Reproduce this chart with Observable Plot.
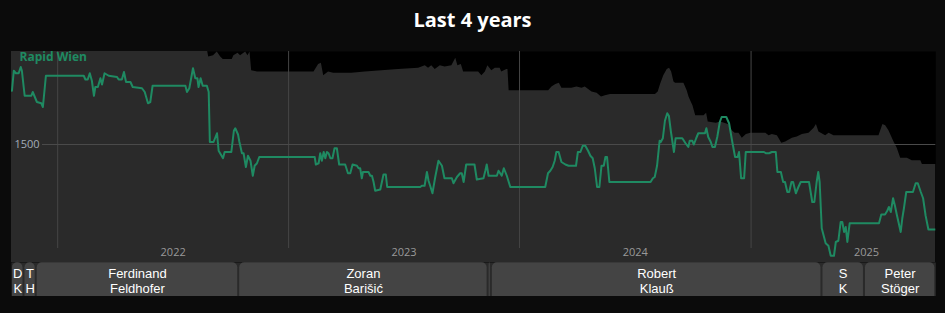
<!DOCTYPE html>
<html><head><meta charset="utf-8">
<script src="https://cdn.jsdelivr.net/npm/d3@7"></script>
<script src="https://cdn.jsdelivr.net/npm/@observablehq/plot@0.6"></script>
<style>
html,body{margin:0;padding:0;background:#0b0b0b;}
#title{height:40px;line-height:40px;text-align:center;color:#fff;font-family:"Open Sans",sans-serif;font-weight:700;font-size:20px;}
#chart svg,#band svg{display:block;}
</style></head><body>
<div id="title">Last 4 years</div>
<div id="chart"></div>
<div id="band"></div>
<script>
const clubName = "Rapid Wien";
const rapidYear = [
2021.802,2021.810,2021.819,2021.831,2021.840,2021.845,2021.857,2021.886,2021.892,2021.910,
2021.929,2021.936,2021.949,2022.113,2022.120,2022.130,2022.139,2022.148,2022.157,2022.163,
2022.174,2022.185,2022.192,2022.203,2022.221,2022.257,2022.264,2022.278,2022.287,2022.296,
2022.315,2022.325,2022.365,2022.377,2022.391,2022.401,2022.411,2022.553,2022.560,2022.570,
2022.579,2022.586,2022.596,2022.605,2022.610,2022.619,2022.628,2022.646,2022.654,2022.659,
2022.675,2022.690,2022.697,2022.716,2022.723,2022.752,2022.763,2022.769,2022.781,2022.787,
2022.798,2022.805,2022.815,2022.824,2022.835,2022.845,2022.853,2022.863,2022.873,2023.113,
2023.118,2023.130,2023.137,2023.144,2023.152,2023.159,2023.166,2023.173,2023.181,2023.190,
2023.199,2023.209,2023.219,2023.245,2023.257,2023.267,2023.277,2023.296,2023.303,2023.310,
2023.317,2023.322,2023.346,2023.354,2023.361,2023.368,2023.375,2023.397,2023.411,2023.421,
2023.427,2023.570,2023.577,2023.589,2023.599,2023.606,2023.613,2023.623,2023.635,2023.649,
2023.664,2023.675,2023.707,2023.714,2023.729,2023.743,2023.750,2023.758,2023.769,2023.805,
2023.815,2023.844,2023.852,2023.858,2023.866,2023.902,2023.909,2023.916,2023.923,2023.932,
2023.945,2023.960,2024.111,2024.123,2024.133,2024.143,2024.152,2024.159,2024.169,2024.181,
2024.198,2024.212,2024.244,2024.252,2024.263,2024.273,2024.284,2024.296,2024.306,2024.316,
2024.325,2024.335,2024.345,2024.354,2024.364,2024.371,2024.378,2024.388,2024.566,2024.576,
2024.584,2024.594,2024.605,2024.610,2024.619,2024.628,2024.638,2024.645,2024.654,2024.667,
2024.674,2024.703,2024.717,2024.729,2024.735,2024.746,2024.753,2024.763,2024.772,2024.801,
2024.807,2024.815,2024.826,2024.833,2024.844,2024.854,2024.865,2024.873,2024.893,2024.905,
2024.919,2024.931,2024.942,2024.948,2024.957,2024.970,2024.977,2025.056,2025.064,2025.078,
2025.090,2025.107,2025.114,2025.129,2025.139,2025.147,2025.157,2025.165,2025.175,2025.182,
2025.194,2025.205,2025.215,2025.251,2025.258,2025.265,2025.274,2025.284,2025.291,2025.297,
2025.306,2025.316,2025.323,2025.335,2025.345,2025.359,2025.367,2025.378,2025.388,2025.395,
2025.403,2025.410,2025.417,2025.427,2025.554,2025.564,2025.580,2025.590,2025.597,2025.605,
2025.615,2025.623,2025.631,2025.648,2025.655,2025.662,2025.672,2025.701,2025.713,2025.722,
2025.735,2025.745,2025.756,2025.768,2025.800];
const rapidElo = [
1543,1559,1557,1557,1562,1559,1539,1539,1542,1534,
1533,1530,1555,1555,1552,1552,1557,1551,1539,1546,
1546,1553,1548,1557,1555,1554,1552,1552,1558,1550,
1550,1546,1545,1542,1533,1534,1547,1547,1542,1545,
1554,1561,1553,1553,1546,1553,1547,1547,1542,1502,
1502,1509,1495,1489,1494,1494,1511,1513,1508,1502,
1493,1493,1482,1491,1487,1475,1483,1485,1490,1490,
1484,1485,1493,1487,1494,1489,1494,1493,1489,1489,
1497,1497,1484,1484,1477,1477,1484,1483,1481,1481,
1473,1478,1478,1475,1475,1470,1463,1464,1476,1476,
1466,1466,1467,1467,1478,1471,1467,1461,1474,1487,
1483,1473,1473,1469,1474,1477,1477,1470,1484,1484,
1472,1473,1479,1484,1475,1475,1479,1477,1475,1481,
1475,1466,1466,1477,1479,1482,1487,1494,1494,1486,
1484,1483,1483,1494,1494,1499,1499,1495,1491,1489,
1481,1466,1466,1483,1483,1490,1490,1470,1470,1473,
1474,1483,1503,1502,1505,1519,1525,1523,1510,1494,
1505,1505,1501,1498,1503,1503,1500,1505,1509,1509,
1513,1506,1502,1498,1498,1506,1518,1522,1522,1517,
1502,1490,1490,1494,1473,1473,1494,1494,1493,1493,
1494,1494,1478,1478,1470,1470,1462,1462,1470,1470,
1461,1466,1470,1470,1462,1454,1454,1470,1478,1470,
1433,1426,1421,1419,1411,1411,1422,1423,1438,1438,
1430,1434,1422,1437,1437,1444,1444,1447,1450,1446,
1457,1451,1444,1430,1441,1449,1462,1462,1469,1469,
1462,1457,1443,1432,1432];
const topYear = [
2021.800,2022.649,2022.654,2022.675,2022.691,2022.706,2022.717,2022.756,2022.763,2022.781,
2022.792,2022.814,2022.824,2022.833,2022.840,2022.865,2023.110,2023.130,2023.142,2023.152,
2023.173,2023.195,2023.245,2023.274,2023.332,2023.404,2023.476,2023.563,2023.592,2023.606,
2023.620,2023.635,2023.657,2023.678,2023.707,2023.724,2023.733,2023.748,2023.758,2023.794,
2023.823,2023.837,2023.852,2023.863,2023.880,2023.895,2023.916,2023.923,2023.945,2023.950,
2023.955,2024.126,2024.140,2024.157,2024.172,2024.183,2024.226,2024.248,2024.270,2024.284,
2024.313,2024.335,2024.354,2024.371,2024.393,2024.587,2024.599,2024.609,2024.623,2024.638,
2024.648,2024.657,2024.667,2024.674,2024.710,2024.724,2024.732,2024.739,2024.749,2024.761,
2024.797,2024.808,2024.815,2024.850,2024.869,2024.902,2024.919,2024.931,2024.948,2024.962,
2024.980,2024.999,2025.064,2025.078,2025.092,2025.114,2025.133,2025.150,2025.179,2025.200,
2025.222,2025.251,2025.273,2025.283,2025.294,2025.323,2025.338,2025.359,2025.554,2025.571,
2025.583,2025.597,2025.619,2025.633,2025.648,2025.677,2025.698,2025.735,2025.742,2025.802];
const topElo = [
1575,1575,1570,1571,1574,1570,1568,1568,1571,1573,
1571,1574,1571,1574,1559,1558,1558,1564,1565,1555,
1558,1557,1557,1557,1558,1559,1560,1561,1563,1561,
1563,1560,1563,1562,1563,1569,1563,1564,1558,1558,
1558,1555,1558,1563,1559,1561,1561,1558,1560,1560,
1543,1543,1546,1548,1549,1545,1545,1546,1545,1546,
1542,1541,1538,1539,1540,1540,1542,1548,1555,1560,
1561,1558,1550,1549,1549,1543,1538,1535,1531,1523,
1523,1525,1518,1517,1518,1516,1511,1509,1509,1505,
1508,1509,1509,1507,1508,1507,1501,1502,1505,1506,
1508,1509,1513,1516,1510,1507,1509,1507,1507,1516,
1515,1511,1502,1497,1489,1489,1487,1487,1484,1484];
const yearTicks = [2022, 2023, 2024, 2025];
const yearLabels = [2022, 2023, 2024, 2025];
const eloTicks = [1500];
const managerLabels = ["D\nK", "T\nH", "Ferdinand\nFeldhofer", "Zoran\nBarišić", "", "Robert\nKlauß", "S\nK", "Peter\nStöger"];
const managerStart = [2021.800, 2021.854, 2021.907, 2022.784, 2023.864, 2023.878, 2025.307, 2025.491];
const managerEnd   = [2021.854, 2021.907, 2022.784, 2023.864, 2023.878, 2025.307, 2025.491, 2025.800];
const xDomainYears = [2021.800, 2025.800];
const yDomain = [1405.6, 1574.4];

function yd(y) {
  const Y = Math.floor(y), f = y - Y;
  const a = Date.UTC(Y, 0, 1), b = Date.UTC(Y + 1, 0, 1);
  return new Date(a + f * (b - a));
}
const n1 = Math.min(rapidYear.length, rapidElo.length);
const rapidData = rapidYear.slice(0, n1).map((y, i) => ({date: yd(y), elo: rapidElo[i]}));
const n2 = Math.min(topYear.length, topElo.length);
const topData = topYear.slice(0, n2).map((y, i) => ({date: yd(y), elo: topElo[i]}));
const managerData = managerLabels.map((l, i) => ({
  label: l, start: yd(managerStart[i]), end: yd(managerEnd[i]),
  mid: yd((managerStart[i] + managerEnd[i]) / 2)
}));
const xDomain = xDomainYears.map(yd);
const green = "#1f8a62";
const baseStyle = {background: "transparent", fontFamily: "Open Sans", overflow: "hidden"};

const mainPlot = Plot.plot({
  width: 945, height: 222,
  marginLeft: 11, marginRight: 9.7, marginTop: 11, marginBottom: 0,
  x: {type: "utc", domain: xDomain, axis: null},
  y: {domain: yDomain, axis: null},
  style: baseStyle,
  marks: [
    Plot.frame({fill: "#000", stroke: null}),
    Plot.areaY(topData, {x: "date", y: "elo", fill: "#2a2a2a", clip: true}),
    Plot.ruleX(yearTicks.map(yd), {stroke: "#454545", insetBottom: 14}),
    Plot.ruleY(eloTicks, {stroke: "#4a4a4a", insetLeft: 31}),
    Plot.text(eloTicks, {y: d => d, text: d => String(d), frameAnchor: "left", textAnchor: "start", dx: 3, fill: "#a3adb8", fontSize: 11}),
    Plot.text(yearLabels, {x: d => yd(d + 0.5), text: d => String(d), frameAnchor: "bottom", dy: -7, fill: "#999", fontSize: 11}),
    Plot.line(rapidData, {x: "date", y: "elo", stroke: green, strokeWidth: 2, clip: true}),
    Plot.text([clubName], {frameAnchor: "top-left", dx: 8, dy: 1, lineAnchor: "top", textAnchor: "start", fill: green, fontWeight: "bold", fontSize: 12})
  ]
});
document.getElementById("chart").append(mainPlot);

const bandPlot = Plot.plot({
  width: 945, height: 34,
  marginLeft: 11, marginRight: 9.7, marginTop: 0, marginBottom: 0,
  x: {type: "utc", domain: xDomain, axis: null},
  style: baseStyle,
  marks: [
    Plot.frame({fill: "#2a2a2a", stroke: null}),
    Plot.rect(managerData, {x1: "start", x2: "end", fill: "#444", rx: 5, insetLeft: 1, insetRight: 1, insetTop: 0.3, insetBottom: -8, clip: true}),
    Plot.text(managerData, {x: "mid", text: "label", fill: "#fff", fontSize: 13, fontFamily: "Liberation Sans, Arial, sans-serif", lineHeight: 1.12, frameAnchor: "middle", dy: 1.5})
  ]
});
document.getElementById("band").append(bandPlot);
</script></body></html>
